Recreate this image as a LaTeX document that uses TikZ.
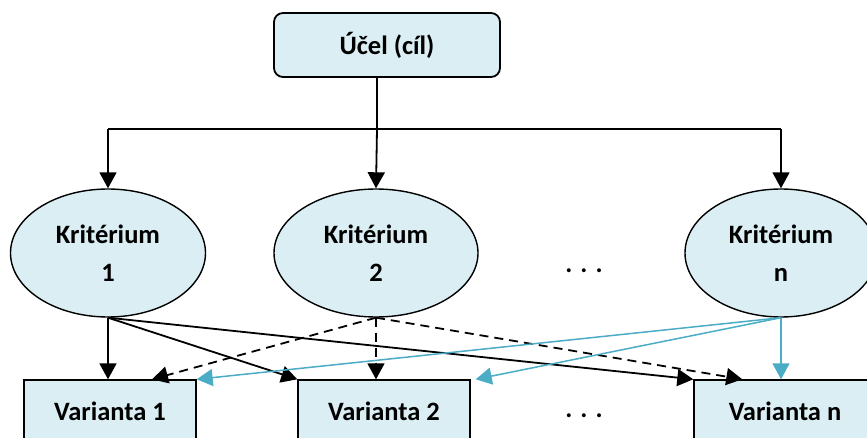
\documentclass[tikz,border=0pt]{standalone}
\usepackage{fontspec}
\setmainfont{Carlito}
\usetikzlibrary{arrows.meta,shapes.geometric,calc}
\definecolor{boxfill}{HTML}{DAEEF3}
\definecolor{accblue}{HTML}{4BACC6}
\begin{document}
\begin{tikzpicture}[x=1pt,y=-1pt,
  lbl/.style={font=\fontsize{26.5}{38}\selectfont\bfseries},
  goalbox/.style={lbl,draw=black,line width=1.8pt,fill=boxfill,rounded corners=9pt,minimum width=226pt,minimum height=64pt,inner sep=0pt},
  critell/.style={lbl,ellipse,draw=black,line width=1.4pt,fill=boxfill,minimum width=195pt,minimum height=128pt,inner sep=0pt,align=center},
  varbox/.style={lbl,draw=black,line width=1.4pt,fill=boxfill,minimum width=172pt,minimum height=62pt,inner sep=0pt},
  conn/.style={line width=1.8pt,-{Triangle[length=16pt,width=17pt]}},
  dconn/.style={conn,dash pattern=on 9pt off 6pt},
  bconn/.style={conn,draw=accblue,line width=1.5pt}]
\clip (0,0) rectangle (867,438);
\node[goalbox] (goal) at (387,45) {Účel (cíl)};
\node[critell] (e1) at (108,253) {Kritérium\\1};
\node[critell,minimum width=204pt] (e2) at (376,253) {Kritérium\\2};
\node[critell,minimum width=192pt] (en) at (781,253) {Kritérium\\n};
\node[lbl] (dtop) at (584,271) {. . .};
\node[varbox] (v1) at (110,411) {Varianta 1};
\node[varbox] (v2) at (384,411) {Varianta 2};
\node[varbox,minimum width=182pt] (vn) at (785,411) {Varianta n};
\node[lbl] (dbot) at (584,416) {. . .};
\coordinate (split) at (377,129);
\coordinate (hl) at (108,129);
\coordinate (hr) at (781,129);
\draw[line width=1.8pt] (goal.south -| split) -- (split);
\draw[line width=1.4pt] (hl) -- (hr);
\draw[conn] (split) -- (e2.north);
\draw[conn] (hl) -- (e1.north);
\draw[conn] (hr) -- (en.north);
% criterion 1
\draw[conn] (e1.south) -- (e1.south |- v1.north);
\draw[conn] (e1.south) -- (v2.north west);
\draw[conn] (e1.south) -- (vn.north west);
% criterion 2
\draw[dconn] (e2.south) -- ([xshift=42pt]v1.north);
\draw[dconn] (e2.south) -- (e2.south |- v2.north);
\draw[dconn] (e2.south) -- ([xshift=49pt]vn.north west);
% criterion n
\draw[bconn] (en.south) -- (v1.north east);
\draw[bconn] (en.south) -- ([xshift=5pt]v2.north east);
\draw[bconn] (en.south) -- (en.south |- vn.north);
\end{tikzpicture}
\end{document}
